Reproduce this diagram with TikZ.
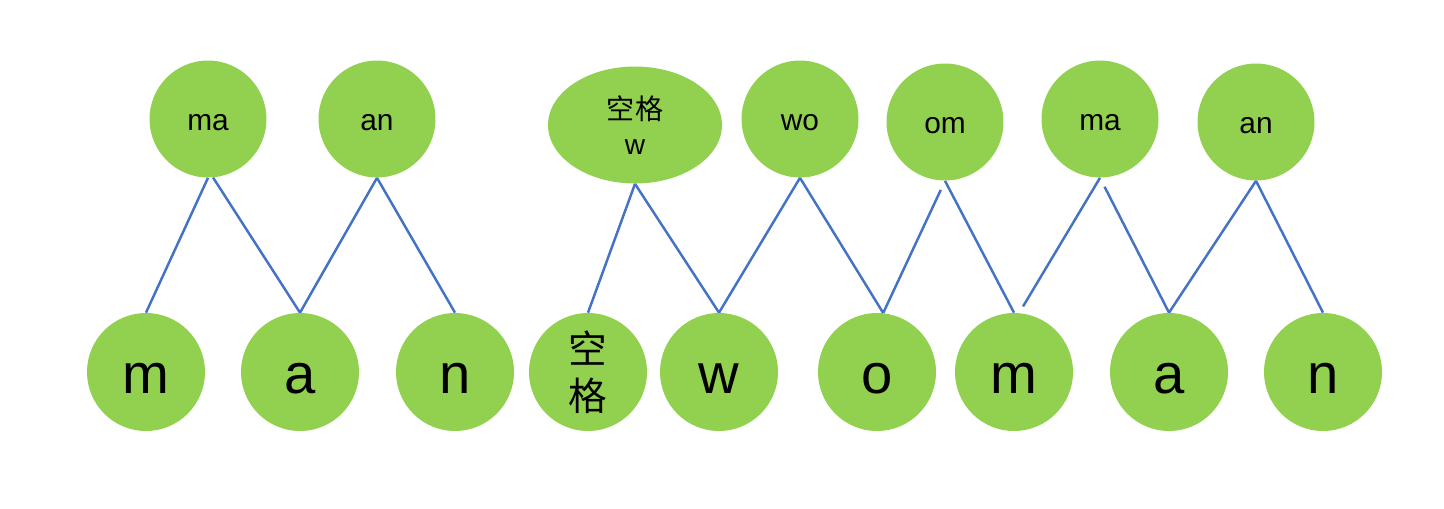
\documentclass[tikz,border=0pt]{standalone}
\usepackage{fontspec}
\setmainfont{Liberation Sans}
\newfontfamily\cjk{Noto Sans CJK SC}
\usepackage{tikz}
\usetikzlibrary{shapes.geometric}
\definecolor{ballgreen}{HTML}{92D050}
\definecolor{linkblue}{HTML}{4472C4}

\begin{document}
\begin{tikzpicture}[x=0.02cm, y=-0.02cm,
        bigball/.style={circle, fill=ballgreen, minimum size=2.36cm, inner sep=0pt, text height=0.84cm, text depth=0pt, font=\fontsize{32}{36}\selectfont},
        smallball/.style={circle, fill=ballgreen, minimum size=2.34cm, inner sep=0pt, text height=0.44cm, text depth=0pt, font=\fontsize{17}{20}\selectfont},
        link/.style={draw=linkblue, line width=1.4pt}]
        \useasboundingbox (0,0) rectangle (1444,508);

        % letters
        \foreach \nm/\x/\txt in {m/146/m, a/300/a, n/455/n, w/719/w, o/877/o, m2/1014/m, a2/1169/a, n2/1323/n} {
            \node[bigball] (\nm) at (\x,372) {\txt};
        }
        \node[circle, fill=ballgreen, minimum size=2.36cm, inner sep=0pt, align=center, font=\cjk\fontsize{22}{27}\selectfont] (kg) at (588,372) {空\\格};

        % pairs
        \foreach \nm/\x/\y/\txt in {ma/208/119/ma, an/377/119/an, wo/800/119/wo, om/945/122/om, ma2/1100/119/ma, an2/1256/122/an} {
            \node[smallball] (\nm) at (\x,\y) {\txt};
        }
        \node[ellipse, fill=ballgreen, minimum width=3.48cm, minimum height=2.34cm, inner sep=0pt, align=center, font=\fontsize{16}{20}\selectfont] (sw) at (635,125) {{\cjk 空格}\\w};

        \draw[link] (ma.south) -- (m.north);
        \draw[link] (ma.-85) -- (a.north);
        \draw[link] (an.south) -- (a.north);
        \draw[link] (an.south) -- (n.north);
        \draw[link] (sw.south) -- (kg.north);
        \draw[link] (sw.south) -- (w.north);
        \draw[link] (wo.south) -- (w.north);
        \draw[link] (wo.south) -- (o.84);
        \draw[link, shorten <=0.2cm] (om.south) -- (o.84);
        \draw[link] (om.south) -- (m2.north);
        \draw[link, shorten >=0.15cm] (ma2.south) -- (m2.85);
        \draw[link, shorten <=0.2cm] (ma2.south) -- (a2.north);
        \draw[link] (an2.south) -- (a2.north);
        \draw[link] (an2.south) -- (n2.north);
\end{tikzpicture}
\end{document}
